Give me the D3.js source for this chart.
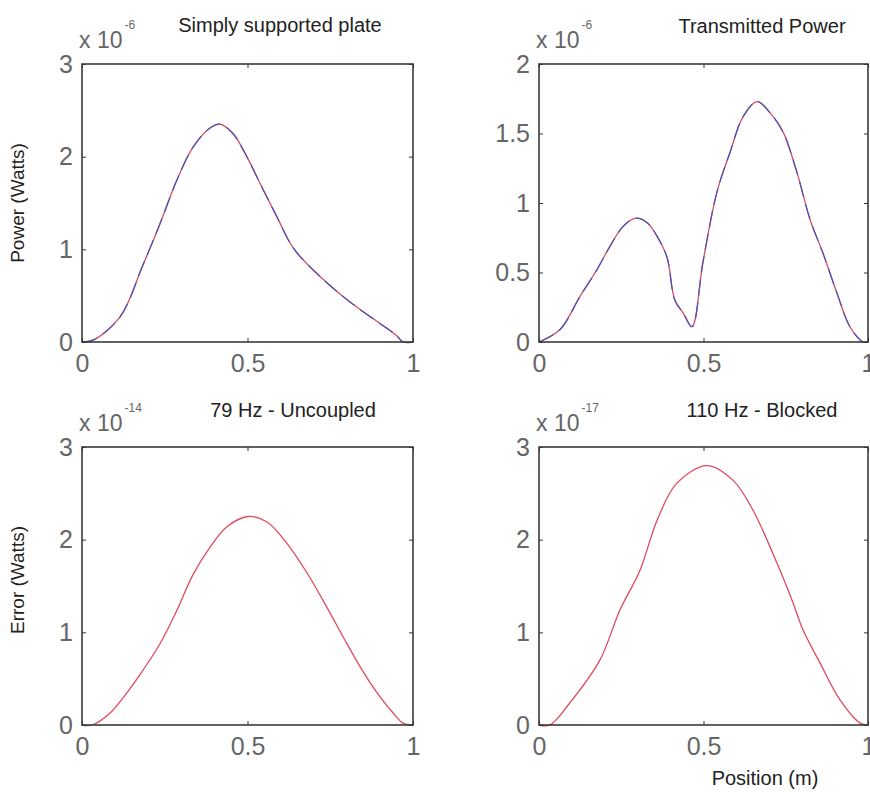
<!DOCTYPE html>
<html>
<head>
<meta charset="UTF-8">
<title>Plate power</title>
<script src="https://d3js.org/d3.v7.min.js"></script>
<style>
  body { margin: 0; background: #fff; }
  text { font-family: "Liberation Sans", Arial, sans-serif; }
</style>
</head>
<body>
<script>
// top left: simply supported plate (x 1e-6 W)
var plateX = [0, 0.033, 0.115, 0.184, 0.236, 0.287, 0.335, 0.387, 0.417, 0.456, 0.498, 0.538, 0.589, 0.637, 0.689, 0.74, 0.789, 0.84, 0.9, 0.95, 0.97, 1];
var plateY = [0, 0.02, 0.27, 0.83, 1.28, 1.75, 2.10, 2.31, 2.35, 2.25, 2.0, 1.71, 1.35, 1.02, 0.81, 0.64, 0.49, 0.35, 0.2, 0.07, 0, 0];

// top right: transmitted power (x 1e-6 W)
var transX = [0, 0.064, 0.125, 0.176, 0.216, 0.255, 0.292, 0.328, 0.359, 0.389, 0.413, 0.438, 0.465, 0.498, 0.541, 0.58, 0.62, 0.663, 0.702, 0.742, 0.784, 0.824, 0.863, 0.906, 0.945, 0.985, 1];
var transY = [0, 0.09, 0.33, 0.52, 0.69, 0.83, 0.89, 0.86, 0.76, 0.61, 0.30, 0.21, 0.11, 0.57, 1.08, 1.36, 1.62, 1.73, 1.65, 1.51, 1.22, 0.88, 0.64, 0.35, 0.11, 0, 0];

// bottom left: 79 Hz uncoupled error (x 1e-14 W)
var uncX = [0, 0.03, 0.085, 0.136, 0.184, 0.236, 0.287, 0.335, 0.387, 0.438, 0.502, 0.559, 0.619, 0.68, 0.74, 0.789, 0.84, 0.891, 0.94, 0.97, 1];
var uncY = [0, 0, 0.13, 0.35, 0.59, 0.88, 1.24, 1.62, 1.92, 2.14, 2.25, 2.19, 1.96, 1.64, 1.27, 0.95, 0.63, 0.35, 0.13, 0.02, 0];

// bottom right: 110 Hz blocked error (x 1e-17 W)
var blkX = [0, 0.033, 0.094, 0.185, 0.246, 0.307, 0.359, 0.419, 0.511, 0.59, 0.65, 0.723, 0.772, 0.802, 0.854, 0.915, 0.976, 1];
var blkY = [0, 0, 0.24, 0.70, 1.24, 1.67, 2.21, 2.61, 2.80, 2.64, 2.32, 1.75, 1.32, 1.03, 0.67, 0.27, 0.02, 0];

var xTicks = [0, 0.5, 1];
var yTicks3 = [0, 1, 2, 3];
var yTicks2 = [0, 0.5, 1, 1.5, 2];

var w = 870, h = 794;
var svg = d3.select("body").append("svg")
    .attr("width", w)
    .attr("height", h);

function zip(xs, ys) {
    return xs.map(function (d, i) { return [d, ys[i]]; });
}

function panel(o) {
    var g = svg.append("g").attr("transform", "translate(" + o.left + "," + o.top + ")");
    var x = d3.scaleLinear().domain([0, 1]).range([0, o.w]);
    var y = d3.scaleLinear().domain([0, o.ymax]).range([o.h, 0]);

    var line = d3.line()
        .x(function (d) { return x(d[0]); })
        .y(function (d) { return y(d[1]); })
        .curve(d3.curveCatmullRom.alpha(0.5));

    // curves
    g.append("path")
        .attr("d", line(zip(o.xs, o.ys)))
        .attr("fill", "none")
        .attr("stroke", "#e04a5e")
        .attr("stroke-width", 1.3);
    if (o.blue) {
        g.append("path")
            .attr("d", line(zip(o.xs, o.ys)))
            .attr("fill", "none")
            .attr("stroke", "#4450c0")
            .attr("stroke-width", 1.2)
            .attr("stroke-dasharray", "16 7");
    }

    // axes, ticks pointing inward
    var fmt = function (d) { return String(d); };
    var ax = [
        d3.axisBottom(x).tickValues(xTicks).tickFormat(fmt).tickSizeInner(-4).tickSizeOuter(0).tickPadding(12),
        d3.axisLeft(y).tickValues(o.yt).tickFormat(fmt).tickSizeInner(-4).tickSizeOuter(0).tickPadding(9),
        d3.axisTop(x).tickValues(xTicks).tickFormat("").tickSizeInner(-4).tickSizeOuter(0),
        d3.axisRight(y).tickValues(o.yt).tickFormat("").tickSizeInner(-4).tickSizeOuter(0)
    ];
    var pos = ["translate(0," + o.h + ")", null, null, "translate(" + o.w + ",0)"];
    ax.forEach(function (a, i) {
        var ag = g.append("g").attr("transform", pos[i]).call(a);
        ag.select(".domain").remove();
        ag.selectAll("line").attr("stroke", "#333");
        ag.selectAll("text")
            .attr("fill", "#666")
            .style("font-size", "25px")
            .style("font-family", "Liberation Sans, Arial, sans-serif");
    });

    g.append("rect")
        .attr("width", o.w)
        .attr("height", o.h)
        .attr("fill", "none")
        .attr("stroke", "#3a3a3a")
        .attr("stroke-width", 1.6);

    // exponent label
    var ex = g.append("text")
        .attr("x", -3)
        .attr("y", -16)
        .attr("fill", "#666")
        .style("font-size", "23px");
    ex.append("tspan").text("x 10");
    ex.append("tspan")
        .attr("dy", -19)
        .attr("dx", 2)
        .style("font-size", "12px")
        .text(o.exp);

    // title
    g.append("text")
        .attr("x", o.tx)
        .attr("y", o.ty)
        .attr("text-anchor", "middle")
        .attr("fill", "#222")
        .style("font-size", "20px")
        .text(o.title);
}

panel({left: 82, top: 64, w: 331, h: 278, ymax: 3, yt: yTicks3, xs: plateX, ys: plateY, blue: true,
    exp: "-6", title: "Simply supported plate", tx: 198, ty: -32});
panel({left: 539, top: 64, w: 329, h: 278, ymax: 2, yt: yTicks2, xs: transX, ys: transY, blue: true,
    exp: "-6", title: "Transmitted Power", tx: 223, ty: -31});
panel({left: 82, top: 447, w: 331, h: 278, ymax: 3, yt: yTicks3, xs: uncX, ys: uncY, blue: false,
    exp: "-14", title: "79 Hz - Uncoupled", tx: 211, ty: -30});
panel({left: 539, top: 447, w: 329, h: 278, ymax: 3, yt: yTicks3, xs: blkX, ys: blkY, blue: false,
    exp: "-17", title: "110 Hz - Blocked", tx: 223, ty: -30});

// axis labels
svg.append("text")
    .attr("transform", "translate(24,203) rotate(-90)")
    .attr("text-anchor", "middle")
    .attr("fill", "#222")
    .style("font-size", "19px")
    .text("Power (Watts)");
svg.append("text")
    .attr("transform", "translate(24,580) rotate(-90)")
    .attr("text-anchor", "middle")
    .attr("fill", "#222")
    .style("font-size", "19px")
    .text("Error (Watts)");
svg.append("text")
    .attr("x", 765)
    .attr("y", 785)
    .attr("text-anchor", "middle")
    .attr("fill", "#222")
    .style("font-size", "20px")
    .text("Position (m)");
</script>
</body>
</html>
